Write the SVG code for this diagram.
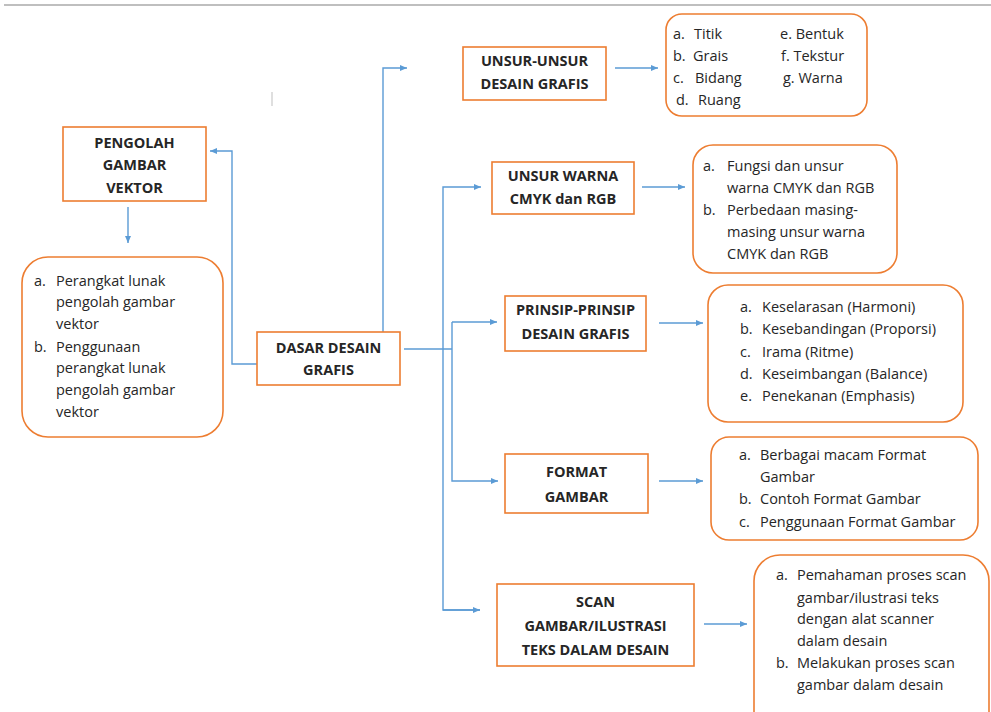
<svg xmlns="http://www.w3.org/2000/svg" width="991" height="712" viewBox="0 0 991 712">
<defs>
<style>
.box{fill:#fff;stroke:#ED7D31;stroke-width:1.6}
.t{font-family:"Open Sans","Liberation Sans",sans-serif;font-size:14.5px;fill:#262626}
.b{font-weight:700;text-anchor:middle}
.c{fill:none;stroke:#5B9BD5;stroke-width:1.4}
</style>
<marker id="ah" markerUnits="userSpaceOnUse" markerWidth="8" markerHeight="8" refX="7" refY="4" orient="auto">
<path d="M0,1 L7,4 L0,7 Z" fill="#5B9BD5"/>
</marker>
</defs>
<rect width="991" height="712" fill="#fff"/>
<line x1="4" y1="5" x2="991" y2="5" stroke="#BFBFBF" stroke-width="2"/>
<line x1="272" y1="92" x2="272" y2="106" stroke="#BFBFBF" stroke-width="1"/>

<g id="connectors">
<path class="c" d="M376 348 H383 V68 H407" marker-end="url(#ah)"/>
<path class="c" d="M257 364 H232 V151 H210" marker-end="url(#ah)"/>
<path class="c" d="M128 207 V243" marker-end="url(#ah)"/>
<path class="c" d="M404 349 H452"/>
<path class="c" d="M480 610 H443 V187 H481" marker-end="url(#ah)"/>
<path class="c" d="M443 610 H480" marker-end="url(#ah)"/>
<path class="c" d="M452 322 V481 H498" marker-end="url(#ah)"/>
<path class="c" d="M452 322 H497" marker-end="url(#ah)"/>
<path class="c" d="M615 68 H658" marker-end="url(#ah)"/>
<path class="c" d="M642 187 H685" marker-end="url(#ah)"/>
<path class="c" d="M659 323 H703" marker-end="url(#ah)"/>
<path class="c" d="M659 481 H703" marker-end="url(#ah)"/>
<path class="c" d="M704 624 H747" marker-end="url(#ah)"/>
</g>

<g id="unsur-unsur">
<rect class="box" x="463" y="47" width="143" height="53"/>
<text class="t b" x="534.5" y="66">UNSUR-UNSUR</text>
<text class="t b" x="534.5" y="89">DESAIN GRAFIS</text>
</g>

<g id="list-unsur">
<rect class="box" x="666" y="14" width="201" height="102" rx="16"/>
<text class="t" x="673" y="39">a.</text><text class="t" x="694" y="39">Titik</text>
<text class="t" x="673" y="61">b.</text><text class="t" x="693" y="61">Grais</text>
<text class="t" x="673" y="83">c.</text><text class="t" x="695" y="83">Bidang</text>
<text class="t" x="676" y="105">d.</text><text class="t" x="698" y="105">Ruang</text>
<text class="t" x="780" y="39">e. Bentuk</text>
<text class="t" x="781" y="61">f. Tekstur</text>
<text class="t" x="783" y="83">g. Warna</text>
</g>

<g id="pengolah">
<rect class="box" x="63" y="127" width="143" height="74"/>
<text class="t b" x="134.5" y="148">PENGOLAH</text>
<text class="t b" x="134.5" y="170">GAMBAR</text>
<text class="t b" x="134.5" y="193">VEKTOR</text>
</g>

<g id="list-pengolah">
<rect class="box" x="22" y="257" width="201" height="180" rx="26"/>
<text class="t" x="34" y="286">a.</text><text class="t" x="56" y="286">Perangkat lunak</text>
<text class="t" x="56" y="307">pengolah gambar</text>
<text class="t" x="56" y="329">vektor</text>
<text class="t" x="34" y="352">b.</text><text class="t" x="56" y="352">Penggunaan</text>
<text class="t" x="56" y="373">perangkat lunak</text>
<text class="t" x="56" y="395">pengolah gambar</text>
<text class="t" x="56" y="417">vektor</text>
</g>

<g id="dasar">
<rect class="box" x="257" y="332" width="143" height="53"/>
<text class="t b" x="328.5" y="353">DASAR DESAIN</text>
<text class="t b" x="328.5" y="375">GRAFIS</text>
</g>

<g id="unsur-warna">
<rect class="box" x="492" y="162" width="142" height="52"/>
<text class="t b" x="563" y="181">UNSUR WARNA</text>
<text class="t b" x="563" y="204">CMYK dan RGB</text>
</g>

<g id="list-warna">
<rect class="box" x="693" y="145" width="204" height="128" rx="20"/>
<text class="t" x="703" y="171">a.</text><text class="t" x="727" y="171">Fungsi dan unsur</text>
<text class="t" x="727" y="193">warna CMYK dan RGB</text>
<text class="t" x="703" y="215">b.</text><text class="t" x="727" y="215">Perbedaan masing-</text>
<text class="t" x="727" y="237">masing unsur warna</text>
<text class="t" x="727" y="259">CMYK dan RGB</text>
</g>

<g id="prinsip">
<rect class="box" x="505" y="296" width="141" height="55"/>
<text class="t b" x="575.5" y="315">PRINSIP-PRINSIP</text>
<text class="t b" x="575.5" y="339">DESAIN GRAFIS</text>
</g>

<g id="list-prinsip">
<rect class="box" x="708" y="285" width="255" height="137" rx="20"/>
<text class="t" x="740" y="312">a.</text><text class="t" x="762" y="312">Keselarasan (Harmoni)</text>
<text class="t" x="740" y="334">b.</text><text class="t" x="762" y="334">Kesebandingan (Proporsi)</text>
<text class="t" x="740" y="357">c.</text><text class="t" x="762" y="357">Irama (Ritme)</text>
<text class="t" x="740" y="379">d.</text><text class="t" x="762" y="379">Keseimbangan (Balance)</text>
<text class="t" x="740" y="401">e.</text><text class="t" x="762" y="401">Penekanan (Emphasis)</text>
</g>

<g id="format">
<rect class="box" x="505" y="454" width="143" height="59"/>
<text class="t b" x="576.5" y="477">FORMAT</text>
<text class="t b" x="576.5" y="502">GAMBAR</text>
</g>

<g id="list-format">
<rect class="box" x="711" y="437" width="267" height="103" rx="18"/>
<text class="t" x="739" y="460">a.</text><text class="t" x="760" y="460">Berbagai macam Format</text>
<text class="t" x="760" y="482">Gambar</text>
<text class="t" x="739" y="504">b.</text><text class="t" x="760" y="504">Contoh Format Gambar</text>
<text class="t" x="739" y="527">c.</text><text class="t" x="760" y="527">Penggunaan Format Gambar</text>
</g>

<g id="scan">
<rect class="box" x="497" y="584" width="197" height="82"/>
<text class="t b" x="595.5" y="607">SCAN</text>
<text class="t b" x="595.5" y="631">GAMBAR/ILUSTRASI</text>
<text class="t b" x="595.5" y="655">TEKS DALAM DESAIN</text>
</g>

<g id="list-scan">
<rect class="box" x="754" y="555" width="235" height="190" rx="26"/>
<text class="t" x="776" y="580">a.</text><text class="t" x="797" y="580">Pemahaman proses scan</text>
<text class="t" x="797" y="603">gambar/ilustrasi teks</text>
<text class="t" x="797" y="624">dengan alat scanner</text>
<text class="t" x="797" y="646">dalam desain</text>
<text class="t" x="776" y="668">b.</text><text class="t" x="797" y="668">Melakukan proses scan</text>
<text class="t" x="797" y="690">gambar dalam desain</text>
</g>
</svg>
